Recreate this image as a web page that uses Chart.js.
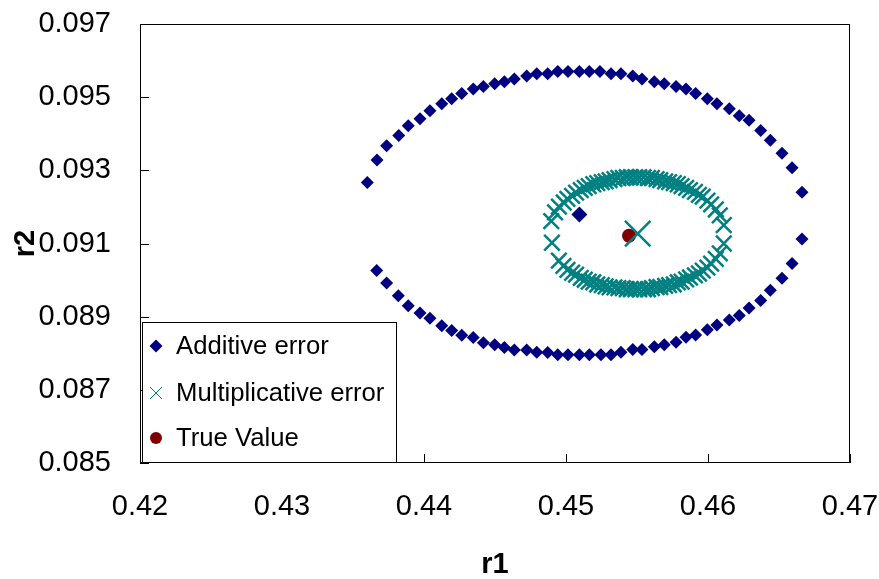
<!DOCTYPE html>
<html>
<head>
<meta charset="utf-8">
<script src="https://cdn.jsdelivr.net/npm/chart.js@4.4.0/dist/chart.umd.min.js"></script>
<style>
  html, body { margin: 0; padding: 0; background: #fff; }
  #contenedor { width: 879px; height: 579px; position: relative; }
</style>
</head>
<body>
<div id="contenedor"><canvas id="grafica"></canvas></div>
<script>
// Estimaciones con error aditivo (arco superior e inferior)
const r1AditivoSup = [0.43601, 0.43669, 0.43737, 0.43822, 0.43889, 0.43972, 0.44042, 0.44125, 0.44195, 0.44266, 0.44347, 0.44418, 0.44498, 0.44566, 0.44636, 0.44723, 0.44794, 0.44871, 0.44942, 0.45014, 0.45094, 0.45164, 0.45239, 0.45317, 0.45387, 0.45470, 0.45535, 0.45622, 0.45692, 0.45775, 0.45845, 0.45913, 0.45995, 0.46063, 0.46150, 0.46220, 0.46289, 0.46371, 0.46439, 0.46521, 0.46592, 0.46662];
const r2AditivoSup = [0.09267, 0.09328, 0.09367, 0.09395, 0.09422, 0.09441, 0.09463, 0.09482, 0.09496, 0.09510, 0.09522, 0.09529, 0.09537, 0.09542, 0.09550, 0.09558, 0.09564, 0.09564, 0.09570, 0.09570, 0.09570, 0.09570, 0.09570, 0.09564, 0.09564, 0.09558, 0.09550, 0.09542, 0.09537, 0.09529, 0.09522, 0.09510, 0.09496, 0.09482, 0.09468, 0.09449, 0.09437, 0.09409, 0.09382, 0.09347, 0.09307, 0.09240];
const r1AditivoInf = [0.43667, 0.43737, 0.43819, 0.43889, 0.43972, 0.44042, 0.44125, 0.44195, 0.44266, 0.44347, 0.44418, 0.44498, 0.44566, 0.44636, 0.44723, 0.44794, 0.44871, 0.44942, 0.45014, 0.45094, 0.45164, 0.45246, 0.45317, 0.45387, 0.45470, 0.45535, 0.45622, 0.45692, 0.45775, 0.45845, 0.45913, 0.45995, 0.46063, 0.46150, 0.46220, 0.46289, 0.46371, 0.46439, 0.46521, 0.46592, 0.46662];
const r2AditivoInf = [0.09026, 0.08992, 0.08957, 0.08930, 0.08910, 0.08896, 0.08875, 0.08862, 0.08849, 0.08843, 0.08829, 0.08823, 0.08816, 0.08809, 0.08809, 0.08803, 0.08802, 0.08796, 0.08796, 0.08796, 0.08796, 0.08796, 0.08796, 0.08803, 0.08810, 0.08810, 0.08818, 0.08823, 0.08830, 0.08844, 0.08850, 0.08864, 0.08877, 0.08891, 0.08903, 0.08924, 0.08944, 0.08972, 0.09005, 0.09045, 0.09112];
const mediaAditivo = [0.45094, 0.09179];

// Estimaciones con error multiplicativo
const r1MultSup = [0.44896, 0.44923, 0.44950, 0.44984, 0.45010, 0.45043, 0.45071, 0.45104, 0.45132, 0.45160, 0.45192, 0.45220, 0.45252, 0.45279, 0.45307, 0.45341, 0.45369, 0.45400, 0.45428, 0.45457, 0.45488, 0.45516, 0.45546, 0.45577, 0.45605, 0.45638, 0.45664, 0.45698, 0.45726, 0.45759, 0.45787, 0.45814, 0.45846, 0.45873, 0.45908, 0.45936, 0.45963, 0.45996, 0.46022, 0.46055, 0.46083, 0.46111];
const r2MultSup = [0.09161, 0.09185, 0.09201, 0.09212, 0.09222, 0.09230, 0.09239, 0.09246, 0.09252, 0.09257, 0.09262, 0.09265, 0.09268, 0.09270, 0.09273, 0.09276, 0.09279, 0.09279, 0.09281, 0.09281, 0.09281, 0.09281, 0.09281, 0.09279, 0.09279, 0.09276, 0.09273, 0.09270, 0.09268, 0.09265, 0.09262, 0.09257, 0.09252, 0.09246, 0.09241, 0.09233, 0.09228, 0.09217, 0.09207, 0.09193, 0.09177, 0.09150];
const r1MultInf = [0.44901, 0.44950, 0.44982, 0.45010, 0.45043, 0.45071, 0.45104, 0.45132, 0.45160, 0.45192, 0.45220, 0.45252, 0.45279, 0.45307, 0.45341, 0.45369, 0.45400, 0.45428, 0.45457, 0.45488, 0.45516, 0.45549, 0.45577, 0.45605, 0.45638, 0.45664, 0.45698, 0.45726, 0.45759, 0.45787, 0.45814, 0.45846, 0.45873, 0.45908, 0.45936, 0.45963, 0.45996, 0.46022, 0.46055, 0.46083, 0.46111];
const r2MultInf = [0.09102, 0.09053, 0.09039, 0.09028, 0.09020, 0.09015, 0.09006, 0.09001, 0.08996, 0.08994, 0.08988, 0.08986, 0.08983, 0.08980, 0.08980, 0.08978, 0.08978, 0.08975, 0.08975, 0.08975, 0.08975, 0.08975, 0.08975, 0.08978, 0.08981, 0.08981, 0.08984, 0.08986, 0.08988, 0.08994, 0.08996, 0.09002, 0.09007, 0.09013, 0.09018, 0.09026, 0.09034, 0.09045, 0.09058, 0.09073, 0.09100];
const mediaMult = [0.45505, 0.09127];

// Valor verdadero
const valorReal = [0.45444, 0.09121];

// Ejes
const ticksR1 = [0.42, 0.43, 0.44, 0.45, 0.46, 0.47];
const etiquetasR1 = ["0.42", "0.43", "0.44", "0.45", "0.46", "0.47"];
const ticksR2 = [0.085, 0.087, 0.089, 0.091, 0.093, 0.095, 0.097];
const etiquetasR2 = ["0.085", "0.087", "0.089", "0.091", "0.093", "0.095", "0.097"];

const nombres = ["Additive error", "Multiplicative error", "True Value"];

const AZUL = "#000080";
const VERDE = "#008080";
const GRANATE = "#800000";
const FUENTE = "'Liberation Sans', Arial, sans-serif";

function puntos(xs, ys) {
  return xs.map((x, i) => ({ x: x, y: ys[i] }));
}

// Marco completo y marcas de los ejes hacia dentro
const marcoEjes = {
  id: "marcoEjes",
  afterDatasetsDraw(chart) {
    const { ctx, chartArea, scales } = chart;
    const largo = 9;
    ctx.save();
    ctx.strokeStyle = "#000";
    ctx.lineWidth = 1;
    ctx.beginPath();
    ticksR1.forEach(v => {
      const px = Math.round(scales.x.getPixelForValue(v)) + 0.5;
      ctx.moveTo(px, chartArea.bottom);
      ctx.lineTo(px, chartArea.bottom - largo);
    });
    ticksR2.forEach(v => {
      const py = Math.round(scales.y.getPixelForValue(v)) + 0.5;
      ctx.moveTo(chartArea.left, py);
      ctx.lineTo(chartArea.left + largo, py);
    });
    ctx.stroke();
    ctx.strokeRect(chartArea.left + 0.5, chartArea.top + 0.5,
      chartArea.right - chartArea.left - 1, chartArea.bottom - chartArea.top - 1);
    ctx.restore();
  }
};

// Leyenda con recuadro dentro del área de trazado
const leyendaCaja = {
  id: "leyendaCaja",
  afterDraw(chart) {
    const { ctx, chartArea } = chart;
    const x0 = chartArea.left + 2;
    const y0 = chartArea.bottom - 141;
    const ancho = 255;
    const alto = 141;
    ctx.save();
    ctx.fillStyle = "#fff";
    ctx.fillRect(x0, y0, ancho, alto);
    ctx.strokeStyle = "#000";
    ctx.lineWidth = 1;
    ctx.strokeRect(x0 + 0.5, y0 + 0.5, ancho - 1, alto - 1);

    const estilos = [
      { pointStyle: "rectRot", radius: 6.5, borderWidth: 0, color: AZUL },
      { pointStyle: "crossRot", radius: 8.5, borderWidth: 2, color: VERDE },
      { pointStyle: "circle", radius: 6, borderWidth: 0, color: GRANATE }
    ];
    const filas = [y0 + 24, y0 + 71, y0 + 116];
    ctx.font = "25.7px " + FUENTE;
    ctx.textBaseline = "middle";
    estilos.forEach((e, i) => {
      ctx.fillStyle = e.color;
      ctx.strokeStyle = e.color;
      Chart.helpers.drawPoint(ctx, {
        pointStyle: e.pointStyle, radius: e.radius, rotation: 0, borderWidth: e.borderWidth
      }, x0 + 14, filas[i]);
      ctx.fillStyle = "#000";
      ctx.fillText(nombres[i], x0 + 34, filas[i] + 1);
    });
    ctx.restore();
  }
};

const ctx = document.getElementById("grafica").getContext("2d");

new Chart(ctx, {
  type: "scatter",
  data: {
    datasets: [
      {
        label: nombres[0],
        data: puntos(r1AditivoSup.concat(r1AditivoInf), r2AditivoSup.concat(r2AditivoInf)),
        pointStyle: "rectRot",
        pointRadius: 6.5,
        backgroundColor: AZUL,
        borderColor: AZUL,
        borderWidth: 0
      },
      {
        label: nombres[0],
        data: [{ x: mediaAditivo[0], y: mediaAditivo[1] }],
        pointStyle: "rectRot",
        pointRadius: 8,
        backgroundColor: AZUL,
        borderColor: AZUL,
        borderWidth: 0
      },
      {
        label: nombres[1],
        data: puntos(r1MultSup.concat(r1MultInf), r2MultSup.concat(r2MultInf)),
        pointStyle: "crossRot",
        pointRadius: 11,
        backgroundColor: VERDE,
        borderColor: VERDE,
        borderWidth: 2.5
      },
      {
        label: nombres[1],
        data: [{ x: mediaMult[0], y: mediaMult[1] }],
        pointStyle: "crossRot",
        pointRadius: 18,
        backgroundColor: VERDE,
        borderColor: VERDE,
        borderWidth: 2.5
      },
      {
        label: nombres[2],
        data: [{ x: valorReal[0], y: valorReal[1] }],
        pointStyle: "circle",
        pointRadius: 7,
        backgroundColor: GRANATE,
        borderColor: GRANATE,
        borderWidth: 0
      }
    ]
  },
  options: {
    responsive: true,
    maintainAspectRatio: false,
    animation: false,
    devicePixelRatio: 1,
    layout: { padding: { top: 24, right: 29, left: 0, bottom: 0 } },
    plugins: {
      legend: { display: false },
      tooltip: { enabled: false }
    },
    scales: {
      x: {
        type: "linear",
        min: 0.42,
        max: 0.47,
        afterBuildTicks: s => { s.ticks = ticksR1.map(v => ({ value: v })); },
        afterFit: s => {
          s.height = 116;
          s.paddingLeft = 0;
          s.paddingRight = 0;
        },
        grid: { display: false },
        border: { display: false },
        ticks: {
          color: "#000",
          padding: 19,
          maxRotation: 0,
          font: { family: FUENTE, size: 29 },
          callback: (v, i) => etiquetasR1[i]
        },
        title: {
          display: true,
          text: "r1",
          color: "#000",
          padding: { top: 0, bottom: 0 },
          font: { family: FUENTE, size: 29, weight: "bold", lineHeight: 1 }
        }
      },
      y: {
        type: "linear",
        min: 0.085,
        max: 0.097,
        afterBuildTicks: s => { s.ticks = ticksR2.map(v => ({ value: v })); },
        afterFit: s => {
          s.width = 140;
          s.paddingTop = 0;
          s.paddingBottom = 0;
        },
        grid: { display: false },
        border: { display: false },
        ticks: {
          color: "#000",
          padding: 21,
          font: { family: FUENTE, size: 29 },
          callback: (v, i) => etiquetasR2[i]
        },
        title: {
          display: true,
          text: "r2",
          color: "#000",
          padding: { top: 11, bottom: 0 },
          font: { family: FUENTE, size: 29, weight: "bold", lineHeight: 1 }
        }
      }
    }
  },
  plugins: [marcoEjes, leyendaCaja]
});
</script>
</body>
</html>
